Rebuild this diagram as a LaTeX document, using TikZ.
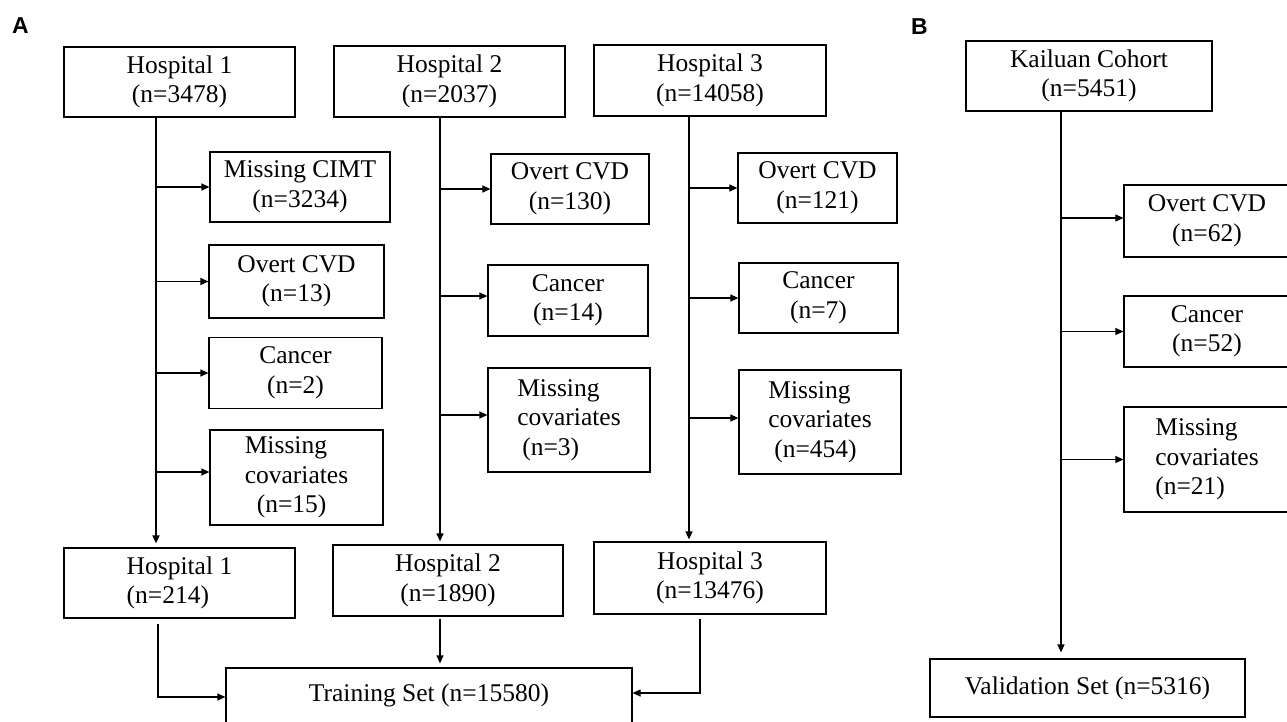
\documentclass[tikz,border=0pt]{standalone}
\usepackage{fontspec}
\setmainfont{Liberation Serif}
\setsansfont{Liberation Sans}
\usetikzlibrary{arrows.meta}
\begin{document}
\begin{tikzpicture}[x=1pt,y=-1pt,
  box/.style={draw, line width=1.2pt, inner sep=0pt, align=center,
    font=\fontsize{25.5}{29.5}\selectfont},
  boxl/.style={box, align=left},
  arr/.style={draw, line width=1.2pt, -{Triangle[length=8pt,width=7pt]}},
  panel/.style={font=\fontsize{23}{23}\selectfont\sffamily\bfseries, inner sep=0pt},
  txt/.style={font=\fontsize{25.5}{29.5}\selectfont, inner sep=0pt}]
\useasboundingbox (0,0) rectangle (1287,721);
\clip (0,0) rectangle (1287,721);

% panel labels
\node[panel] (lA) at (20.5,26) {A};
\node[panel] (lB) at (919.5,27) {B};

% ---------- Panel A ----------
\node[box, minimum width=231pt, minimum height=70pt] (h1) at (179.5,82) {Hospital 1\\(n=3478)};
\node[box, minimum width=231pt, minimum height=71pt] (h2) at (449.5,81.5) {Hospital 2\\(n=2037)};
\node[box, minimum width=232pt, minimum height=71pt] (h3) at (710,80.5) {Hospital 3\\(n=14058)};

\node[box, minimum width=180pt, minimum height=70pt] (mc) at (300,187) {Missing CIMT\\(n=3234)};
\node[box, minimum width=175pt, minimum height=73pt] (o13) at (296.5,281.5) {Overt CVD\\(n=13)};
\node[box, minimum width=173pt, minimum height=71pt] (c2) at (295.5,373) {Cancer\\(n=2)};
\node[boxl, minimum width=173pt, minimum height=95pt] (m15) at (296.5,477.5) {Missing\\covariates\\\hspace*{12pt}(n=15)};

\node[box, minimum width=158pt, minimum height=70pt] (o130) at (570,189) {Overt CVD\\(n=130)};
\node[box, minimum width=160pt, minimum height=71pt] (c14) at (568,300.5) {Cancer\\(n=14)};
\node[boxl, minimum width=162pt, minimum height=104pt] (m3) at (569,420) {Missing\\covariates\\\hspace*{5pt}(n=3)};

\node[box, minimum width=159pt, minimum height=70pt] (o121) at (817.5,188) {Overt CVD\\(n=121)};
\node[box, minimum width=159pt, minimum height=70pt] (c7) at (818.5,298) {Cancer\\(n=7)};
\node[boxl, minimum width=162pt, minimum height=104pt] (m454) at (820,422) {Missing\\covariates\\\hspace*{6pt}(n=454)};

\node[boxl, minimum width=231pt, minimum height=70pt] (h1b) at (179.5,583) {Hospital 1\\(n=214)};
\node[box, minimum width=230pt, minimum height=71pt] (h2b) at (448,580.5) {Hospital 2\\(n=1890)};
\node[box, minimum width=232pt, minimum height=72pt] (h3b) at (710,578) {Hospital 3\\(n=13476)};

\node[box, minimum width=406pt, minimum height=58pt] (train) at (429,697) {};
\node[txt, anchor=base] (traintxt) at (429,701) {Training Set (n=15580)};

% guide coordinates for the vertical lines
\coordinate (x1) at (156,0);
\coordinate (x1b) at (158,0);
\coordinate (x2) at (440,0);
\coordinate (x3) at (689,0);
\coordinate (x3b) at (700,0);
\coordinate (xb) at (1061,0);

\coordinate (m15a) at ([yshift=5.5pt]m15.west);
\coordinate (c14a) at ([yshift=4.5pt]c14.west);
\coordinate (m3a) at ([yshift=5pt]m3.west);
\coordinate (m454a) at ([yshift=4pt]m454.west);
\coordinate (trainR) at ([yshift=4pt]train.east);

% Hospital 1 branch
\draw[arr, line width=1.7pt, shorten >=4pt] (h1.south -| x1) -- (h1b.north -| x1);
\draw[arr] (x1 |- mc.west) -- (mc.west);
\draw[arr] (x1 |- o13.west) -- (o13.west);
\draw[arr] (x1 |- c2.west) -- (c2.west);
\draw[arr] (x1 |- m15a) -- (m15a);

% Hospital 2 branch
\draw[arr, shorten >=3pt] (h2.south -| x2) -- (h2b.north -| x2);
\draw[arr] (x2 |- o130.west) -- (o130.west);
\draw[arr] (x2 |- c14a) -- (c14a);
\draw[arr] (x2 |- m3a) -- (m3a);

% Hospital 3 branch
\draw[arr, shorten >=2pt] (h3.south -| x3) -- (h3b.north -| x3);
\draw[arr] (x3 |- o121.west) -- (o121.west);
\draw[arr] (x3 |- c7.west) -- (c7.west);
\draw[arr] (x3 |- m454a) -- (m454a);

% to training set
\draw[arr, shorten <=5pt] (h1b.south -| x1b) |- (train.west);
\draw[arr, shorten <=2pt, shorten >=4pt] (h2b.south -| x2) -- (train.north -| x2);
\draw[arr, shorten <=4pt] (h3b.south -| x3b) |- (trainR);

% ---------- Panel B ----------
\node[box, minimum width=246pt, minimum height=70pt] (kc) at (1089,76) {Kailuan Cohort\\(n=5451)};
\node[box, minimum width=166pt, minimum height=72pt] (o62) at (1207,221) {Overt CVD\\(n=62)};
\node[box, minimum width=166pt, minimum height=71pt] (c52) at (1207,331.5) {Cancer\\(n=52)};
\node[boxl, minimum width=166pt, minimum height=105pt] (m21) at (1207,459.5) {Missing\\covariates\\(n=21)};
\node[box, minimum width=315pt, minimum height=58pt] (val) at (1087.5,688) {Validation Set (n=5316)};

\coordinate (o62a) at ([yshift=3pt]o62.west);
\draw[arr, shorten >=6pt] (kc.south -| xb) -- (val.north -| xb);
\draw[arr] (xb |- o62a) -- (o62a);
\draw[arr] (xb |- c52.west) -- (c52.west);
\draw[arr] (xb |- m21.west) -- (m21.west);
\end{tikzpicture}
\end{document}
